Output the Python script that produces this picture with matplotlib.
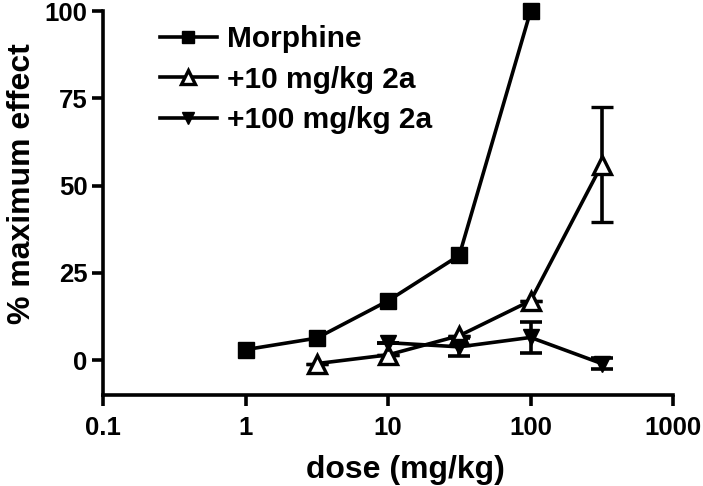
import numpy as np
import matplotlib
matplotlib.use('Agg')
import matplotlib.pyplot as plt

plt.rcParams['font.family'] = ['Liberation Sans', 'DejaVu Sans']
plt.rcParams['font.weight'] = 'bold'

# data
dose_morphine = [1, 3.16, 10, 31.6, 100]
eff_morphine = [3, 6.3, 17, 30, 100]

dose_10 = [3.16, 10, 31.6, 100, 316]
eff_10 = [-1, 1.5, 7, 17, 56]
err_10 = [0, 0, 0, 0, 16.5]

dose_100 = [10, 31.6, 100, 316]
eff_100 = [5, 3.8, 6.5, -1]
err_100 = [0, 2.5, 4.5, 1.5]

fig = plt.figure(figsize=(7.03, 4.86), dpi=100)
ax = fig.add_axes([0.1465, 0.1872, 0.811, 0.790])

lw = 2.6
ax.errorbar(dose_morphine, eff_morphine, color='black', lw=lw, marker='s', ms=11,
            label='Morphine', clip_on=False)
ax.errorbar(dose_10, eff_10, yerr=err_10, color='black', lw=lw, marker='^', ms=13,
            mfc='white', mew=2.4, capsize=8, capthick=lw, elinewidth=lw,
            label='+10 mg/kg 2a', clip_on=False)
ax.errorbar(dose_100, eff_100, yerr=err_100, color='black', lw=lw, marker='v', ms=11,
            capsize=8, capthick=lw, elinewidth=lw,
            label='+100 mg/kg 2a', clip_on=False)

ax.set_xscale('log')
ax.set_xlim(0.1, 1000)
ax.set_ylim(-10, 100)
ax.set_xticks([0.1, 1, 10, 100, 1000])
ax.set_xticklabels(['0.1', '1', '10', '100', '1000'])
ax.set_yticks([0, 25, 50, 75, 100])
ax.minorticks_off()
ax.spines['top'].set_visible(False)
ax.spines['right'].set_visible(False)
ax.spines['left'].set_linewidth(2.6)
ax.spines['bottom'].set_linewidth(2.6)
ax.tick_params(width=2.6, length=8, labelsize=18.5)
ax.tick_params(axis='x', pad=7)
ax.tick_params(axis='y', pad=3)
ax.set_xlabel('dose (mg/kg)', fontsize=23, fontweight='bold')
ax.set_ylabel('% maximum effect', fontsize=23, fontweight='bold')
ax.xaxis.set_label_coords(0.53, -0.155)
ax.yaxis.set_label_coords(-0.115, 0.55)

handles, labels = ax.get_legend_handles_labels()
handles = [h[0] for h in handles]
ax.legend(handles, labels, loc='upper left', bbox_to_anchor=(160 / 703, 1 - 25 / 486),
          bbox_transform=fig.transFigure, frameon=False, borderpad=0, borderaxespad=0,
          fontsize=21.5, handlelength=1.9, handletextpad=0.35, labelspacing=0.42,
          markerscale=0.8)

fig.savefig('out.png', dpi=100)
